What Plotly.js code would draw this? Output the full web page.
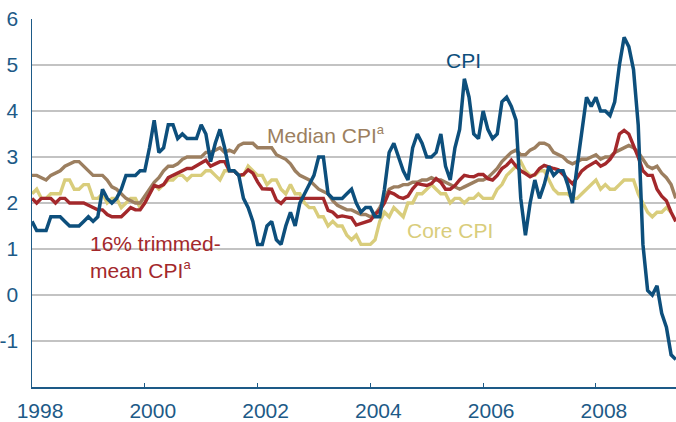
<!DOCTYPE html>
<html>
<head>
<meta charset="utf-8">
<script src="https://cdn.plot.ly/plotly-3.0.1.min.js"></script>
<style>html,body{margin:0;padding:0;background:#fff;}#chart{width:676px;height:422px;}</style>
</head>
<body>
<div id="chart"></div>
<script>
// Monthly year-over-year inflation, Jan 1998 – Jun 2009
const startYear = 1998;

const cpi = [
  1.6, 1.4, 1.4, 1.4, 1.7, 1.7, 1.7, 1.6, 1.5, 1.5, 1.5, 1.6,
  1.7, 1.6, 1.7, 2.3, 2.1, 2.0, 2.1, 2.3, 2.6, 2.6, 2.6, 2.7,
  2.7, 3.2, 3.8, 3.1, 3.2, 3.7, 3.7, 3.4, 3.5, 3.4, 3.4, 3.4,
  3.7, 3.5, 2.9, 3.3, 3.6, 3.2, 2.7, 2.7, 2.6, 2.1, 1.9, 1.6,
  1.1, 1.1, 1.5, 1.6, 1.2, 1.1, 1.5, 1.8, 1.5, 2.0, 2.2, 2.4,
  2.6, 3.0, 3.0, 2.2, 2.1, 2.1, 2.1, 2.2, 2.3, 2.0, 1.8, 1.9,
  1.9, 1.7, 1.7, 2.3, 3.1, 3.3, 3.0, 2.7, 2.5, 3.2, 3.5, 3.3,
  3.0, 3.0, 3.1, 3.5, 2.8, 2.5, 3.2, 3.6, 4.7, 4.3, 3.5, 3.4,
  4.0, 3.6, 3.4, 3.5, 4.2, 4.3, 4.1, 3.8, 2.1, 1.3, 2.0, 2.5,
  2.1, 2.4, 2.8, 2.6, 2.7, 2.7, 2.4, 2.0, 2.8, 3.5, 4.3, 4.1,
  4.3, 4.0, 4.0, 3.9, 4.2, 5.0, 5.6, 5.4, 4.9, 3.7, 1.1, 0.1,
  0.0, 0.2, -0.4, -0.7, -1.3, -1.4
];

const coreCpi = [
  2.2, 2.3, 2.1, 2.1, 2.2, 2.2, 2.2, 2.5, 2.5, 2.3, 2.3, 2.4,
  2.4, 2.1, 2.1, 2.2, 2.0, 2.1, 2.1, 1.9, 2.0, 2.1, 2.1, 1.9,
  2.0, 2.2, 2.4, 2.3, 2.4, 2.5, 2.5, 2.6, 2.6, 2.5, 2.6, 2.6,
  2.6, 2.7, 2.7, 2.6, 2.5, 2.7, 2.7, 2.7, 2.6, 2.6, 2.8, 2.7,
  2.6, 2.6, 2.4, 2.5, 2.5, 2.3, 2.2, 2.4, 2.2, 2.2, 2.0, 1.9,
  1.9, 1.7, 1.7, 1.5, 1.6, 1.5, 1.5, 1.3, 1.2, 1.3, 1.1, 1.1,
  1.1, 1.2, 1.6, 1.8, 1.7, 1.9, 1.8, 1.7, 2.0, 2.0, 2.2, 2.2,
  2.3, 2.4, 2.3, 2.2, 2.2, 2.0, 2.1, 2.1, 2.0, 2.1, 2.1, 2.2,
  2.1, 2.1, 2.1, 2.3, 2.4, 2.6, 2.7, 2.8, 2.9, 2.7, 2.6, 2.6,
  2.7, 2.7, 2.5, 2.3, 2.2, 2.2, 2.2, 2.1, 2.1, 2.2, 2.3, 2.4,
  2.5, 2.3, 2.4, 2.3, 2.3, 2.4, 2.5, 2.5, 2.5, 2.2, 2.0, 1.8,
  1.7, 1.8, 1.8, 1.9, 1.8, null
];

const medianCpi = [
  2.6, 2.6, 2.55, 2.5, 2.6, 2.65, 2.7, 2.8, 2.85, 2.9, 2.9, 2.8,
  2.7, 2.6, 2.6, 2.6, 2.5, 2.35, 2.3, 2.2, 2.1, 2.05, 2.0, 2.0,
  2.15, 2.3, 2.45, 2.55, 2.7, 2.8, 2.8, 2.85, 2.95, 3.0, 3.0, 3.0,
  3.0, 3.1, 3.1, 3.15, 3.2, 3.1, 3.15, 3.1, 3.25, 3.3, 3.3, 3.3,
  3.2, 3.2, 3.2, 3.2, 3.05, 3.0, 2.95, 2.85, 2.7, 2.6, 2.55, 2.5,
  2.4, 2.3, 2.25, 2.2, 2.05, 1.95, 1.9, 1.85, 1.85, 1.8, 1.75, 1.75,
  1.7, 1.75, 1.9, 2.1, 2.3, 2.35, 2.35, 2.4, 2.4, 2.45, 2.45, 2.5,
  2.5, 2.55, 2.5, 2.5, 2.45, 2.4, 2.35, 2.3, 2.35, 2.4, 2.45, 2.5,
  2.5, 2.55, 2.65, 2.75, 2.9, 3.0, 3.1, 3.15, 3.05, 3.05, 3.15, 3.2,
  3.3, 3.3, 3.25, 3.1, 3.05, 3.0, 2.9, 2.85, 2.9, 2.95, 2.95, 3.0,
  3.05, 2.95, 3.0, 3.0, 3.1, 3.15, 3.2, 3.25, 3.2, 3.1, 2.95, 2.8,
  2.75, 2.8, 2.65, 2.55, 2.4, 2.1
];

const trimmedMeanCpi = [
  2.1, 2.0, 2.1, 2.1, 2.1, 2.0, 2.1, 2.1, 2.0, 2.0, 2.0, 2.0,
  1.95, 1.9, 1.85, 1.85, 1.75, 1.7, 1.7, 1.7, 1.8, 1.9, 1.85, 1.85,
  2.0, 2.2, 2.38, 2.35, 2.4, 2.55, 2.6, 2.65, 2.7, 2.75, 2.75, 2.82,
  2.87, 2.93, 2.8, 2.85, 2.9, 2.9, 2.7, 2.7, 2.6, 2.62, 2.72, 2.65,
  2.46, 2.31, 2.31, 2.3, 2.06, 1.99, 2.1, 2.1, 2.1, 2.1, 2.1, 2.1,
  2.1, 2.1, 2.1, 1.84, 1.8, 1.7, 1.72, 1.7, 1.68, 1.52, 1.55, 1.58,
  1.62, 1.75, 1.84, 2.0, 2.24, 2.2, 2.13, 2.1, 2.15, 2.31, 2.42, 2.4,
  2.38, 2.42, 2.53, 2.45, 2.3, 2.3, 2.38, 2.5, 2.6, 2.58, 2.57, 2.62,
  2.62, 2.53, 2.5, 2.6, 2.75, 2.82, 2.93, 2.8, 2.7, 2.64, 2.57, 2.62,
  2.75, 2.82, 2.78, 2.75, 2.72, 2.62, 2.5, 2.42, 2.55, 2.7, 2.78, 2.85,
  2.9, 2.8, 2.85, 2.95, 3.1, 3.5, 3.58, 3.5, 3.25, 3.0, 2.7, 2.6,
  2.6, 2.3, 2.15, 2.05, 1.8, 1.6
];

const yearTicks = [1998, 2000, 2002, 2004, 2006, 2008];
const yearLabels = ['1998', '2000', '2002', '2004', '2006', '2008'];
const yTicks = [-1, 0, 1, 2, 3, 4, 5, 6];
const yLabels = ['-1', '0', '1', '2', '3', '4', '5', '6'];

// month positions as decimal years
const months = cpi.map((_, i) => startYear + i / 12);

const C_CPI = '#0d4f7c';
const C_MED = '#9c7f60';
const C_TRIM = '#a3282b';
const C_CORE = '#d9cd7c';
const C_AXIS = '#1d5a87';
const FONT = 'Liberation Sans, Arial, Helvetica, sans-serif';

const mk = (y, color, name, w) => ({
  x: months, y: y, type: 'scatter', mode: 'lines', name: name,
  line: {color: color, width: w, shape: 'linear'}, hoverinfo: 'skip', connectgaps: false
});

const traces = [
  mk(coreCpi, C_CORE, 'Core CPI', 3.4),
  mk(medianCpi, C_MED, 'Median CPI', 3.4),
  mk(trimmedMeanCpi, C_TRIM, '16% trimmed-mean CPI', 3.4),
  mk(cpi, C_CPI, 'CPI', 3.5)
];

const SUP = '<span style="font-size:13px">a</span>';

const layout = {
  width: 676, height: 422,
  margin: {l: 32, r: 0, t: 19, b: 35, pad: 0},
  paper_bgcolor: '#ffffff', plot_bgcolor: '#ffffff',
  showlegend: false,
  font: {family: FONT, color: C_AXIS, size: 21},
  xaxis: {
    type: 'linear', range: [1998, 2009.42],
    tickmode: 'array', tickvals: yearTicks, ticktext: yearLabels,
    showgrid: false, zeroline: false,
    showline: true, linecolor: C_AXIS, linewidth: 1.5,
    ticks: 'inside', ticklen: 4, tickwidth: 1, tickcolor: C_AXIS,
    tickfont: {family: FONT, size: 21, color: C_AXIS},
    ticklabelshift: 8, ticklabelstandoff: 4
  },
  yaxis: {
    range: [-2, 6],
    tickmode: 'array', tickvals: yTicks, ticktext: yLabels,
    showgrid: true, gridcolor: '#c3c3c3', gridwidth: 1.5,
    zeroline: false,
    showline: true, linecolor: C_AXIS, linewidth: 1.5,
    ticks: '', tickfont: {family: FONT, size: 21, color: C_AXIS},
    ticklabelstandoff: 8
  },
  annotations: [
    {x: 2005.3, y: 5.1, xref: 'x', yref: 'y', text: 'CPI', showarrow: false,
     xanchor: 'left', yanchor: 'middle', font: {family: FONT, size: 21, color: C_CPI}},
    {x: 2002.13, y: 3.5, xref: 'x', yref: 'y', text: 'Median CPI<sup>' + SUP + '</sup>', showarrow: false,
     xanchor: 'left', yanchor: 'middle', font: {family: FONT, size: 21, color: C_MED}},
    {x: 1998.99, y: 0.83, xref: 'x', yref: 'y', text: '16% trimmed-<br>mean CPI<sup>' + SUP + '</sup>', showarrow: false,
     xanchor: 'left', yanchor: 'middle', align: 'left', font: {family: FONT, size: 21, color: C_TRIM}},
    {x: 2004.61, y: 1.41, xref: 'x', yref: 'y', text: 'Core CPI', showarrow: false,
     xanchor: 'left', yanchor: 'middle', font: {family: FONT, size: 21, color: C_CORE}}
  ]
};

Plotly.newPlot('chart', traces, layout, {displayModeBar: false, staticPlot: true});
</script>
</body>
</html>
